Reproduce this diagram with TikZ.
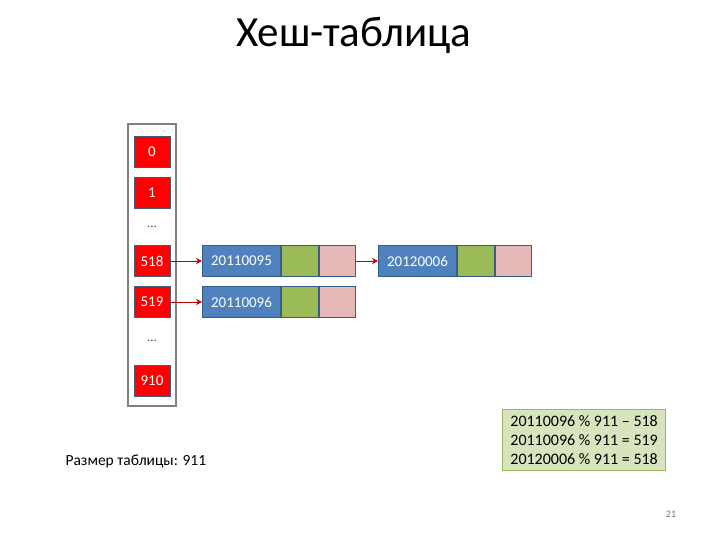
\documentclass[tikz,border=0pt]{standalone}
\usepackage{fontspec}
\setmainfont{Carlito}
\usetikzlibrary{arrows.meta, positioning}

\definecolor{cellred}{HTML}{FF0000}
\definecolor{cellline}{HTML}{4A5A7A}
\definecolor{keyblue}{HTML}{4F81BD}
\definecolor{keyline}{HTML}{385D8A}
\definecolor{valgreen}{HTML}{9BBB59}
\definecolor{nextpink}{HTML}{E6B9B8}
\definecolor{notefill}{HTML}{D7E4BD}
\definecolor{noteline}{HTML}{9BBB59}
\definecolor{linkred}{HTML}{C00000}

\begin{document}
\begin{tikzpicture}[
  x=1pt, y=-1pt,
  font=\fontsize{15}{18}\selectfont,
  bucket/.style={draw=cellline, fill=cellred, line width=1pt, text=white,
                 minimum width=36pt, minimum height=31pt, inner sep=0pt},
  keycell/.style={draw=keyline, fill=keyblue, line width=1pt, text=white,
                  minimum width=78pt, minimum height=31pt, inner sep=0pt},
  valcell/.style={draw=keyline, fill=valgreen, line width=1pt,
                  minimum width=37pt, minimum height=31pt, inner sep=0pt},
  nextcell/.style={draw=keyline, fill=nextpink, line width=1pt,
                   minimum width=36pt, minimum height=31pt, inner sep=0pt},
  dots/.style={font=\fontsize{13}{15}\selectfont, text=black!70},
  link/.style={-{Stealth[length=6pt, width=6pt]}, draw=linkred, line width=1pt}
]
\useasboundingbox (0,0) rectangle (720,540);

%% ---------- title ----------
\node[font=\fontsize{43}{50}\selectfont] (title) at (354,35) {Хеш-таблица};

%% ---------- bucket array ----------
\draw[draw=black!50, line width=1.6pt, fill=white] (128,124) rectangle (176,406);
\node[bucket] (b0)   at (152,152) {0};
\node[bucket] (b1)   at (152,193) {1};
\node[dots]   (d1)   at (152,227) {...};
\node[bucket] (b518) at (152,261) {518};
\node[bucket] (b519) at (152,302) {519};
\node[dots]   (d2)   at (152,341) {...};
\node[bucket] (b910) at (152,381) {910};

%% ---------- chains ----------
\node[keycell, anchor=west] (k1) at (202,261) {20110095};
\node[valcell, right=0pt of k1] (v1) {};
\node[nextcell, right=0pt of v1] (n1) {};

\node[keycell, anchor=west] (k3) at (378,261) {20120006};
\node[valcell, right=0pt of k3] (v3) {};
\node[nextcell, right=0pt of v3] (n3) {};

\node[keycell, anchor=west] (k2) at (202,302) {20110096};
\node[valcell, right=0pt of k2] (v2) {};
\node[nextcell, right=0pt of v2] (n2) {};

%% ---------- links ----------
\draw[link] (b518.east) -- (k1.west);
\draw[link] (b519.east) -- (k2.west);
\draw[link] (n1.east) -- (k3.west);

%% ---------- notes ----------
\node[anchor=west, font=\fontsize{15.5}{18}\selectfont] (size) at (62,461)
  {Размер таблицы: 911};
\node[draw=noteline, fill=notefill, line width=0.8pt, align=left,
      font=\fontsize{16}{19}\selectfont, inner xsep=8pt, inner ysep=6pt,
      anchor=north west] (calc) at (502,409)
  {20110096 \% 911 -- 518\\20110096 \% 911 = 519\\20120006 \% 911 = 518};
\node[text=black!55, font=\fontsize{10}{12}\selectfont] (page) at (671,514) {21};
\end{tikzpicture}
\end{document}
